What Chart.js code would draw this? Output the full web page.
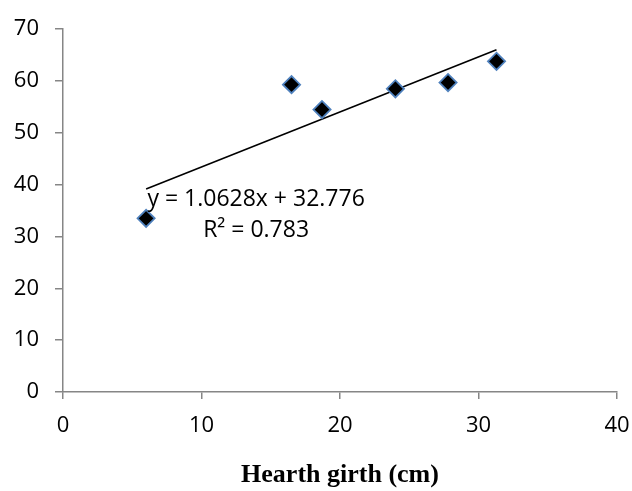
<!DOCTYPE html>
<html>
<head>
<meta charset="utf-8">
<script src="https://cdn.jsdelivr.net/npm/chart.js@4.4.1/dist/chart.umd.min.js"></script>
<style>
html,body{margin:0;padding:0;background:#fff;}
#wrap{width:632px;height:491px;position:relative;}
</style>
</head>
<body>
<div id="wrap"><canvas id="c"></canvas></div>
<script>
const girth = [6, 16.5, 18.7, 24, 27.8, 31.3];
const weight = [33.5, 59.3, 54.5, 58.5, 59.7, 63.8];
const xTicks = [0, 10, 20, 30, 40];
const yTicks = [0, 10, 20, 30, 40, 50, 60, 70];
const slope = 1.0628;
const intercept = 32.776;
const rSquared = 0.783;
const xTitle = 'Hearth girth (cm)';

const xMin = Math.min(...girth), xMax = Math.max(...girth);
const trend = [xMin, xMax].map(x => ({x: x, y: slope * x + intercept}));
const pts = girth.map((x, i) => ({x: x, y: weight[i]}));

const tickFont = {family: "'Open Sans', sans-serif", size: 22};

const eqPlugin = {
  id: 'eq',
  afterDatasetsDraw(chart) {
    const ctx = chart.ctx;
    const xs = chart.scales.x, ys = chart.scales.y;
    ctx.save();
    ctx.fillStyle = '#000';
    ctx.font = "23px 'Open Sans', sans-serif";
    ctx.textBaseline = 'middle';
    ctx.textAlign = 'center';
    const cx = xs.getPixelForValue(xMin) + 110;
    const y0 = ys.getPixelForValue(slope * xMin + intercept);
    ctx.fillText('y = ' + slope + 'x + ' + intercept, cx, y0 + 10);
    ctx.fillText('R\u00B2 = ' + rSquared, cx, y0 + 41);
    ctx.restore();
  }
};

new Chart(document.getElementById('c'), {
  type: 'scatter',
  data: {
    datasets: [
      {
        type: 'line',
        data: trend,
        borderColor: '#000',
        borderWidth: 1.6,
        pointRadius: 0,
        fill: false,
        order: 2
      },
      {
        data: pts,
        pointStyle: 'rectRot',
        pointRadius: 8.6,
        pointHoverRadius: 8.6,
        backgroundColor: '#000',
        borderColor: '#4F81BD',
        borderWidth: 1.8,
        order: 1
      }
    ]
  },
  options: {
    responsive: true,
    maintainAspectRatio: false,
    animation: false,
    events: [],
    layout: {padding: {top: 25, right: 15, left: 0, bottom: 0}},
    plugins: {legend: {display: false}, tooltip: {enabled: false}},
    scales: {
      x: {
        type: 'linear',
        min: 0, max: 40,
        afterBuildTicks: s => { s.ticks = xTicks.map(v => ({value: v})); },
        afterFit: s => { s.height = 99; s.paddingRight = 0; s.paddingLeft = 0; },
        grid: {drawOnChartArea: false, drawTicks: true, tickLength: 7, color: '#868686', lineWidth: 1.5},
        border: {color: '#868686', width: 1.5},
        ticks: {color: '#000', font: tickFont, padding: 14, maxRotation: 0},
        title: {display: true, text: xTitle, color: '#000', font: {family: "'Liberation Serif', 'Times New Roman', serif", size: 26, weight: 'bold'}, padding: {top: 0, bottom: 0}}
      },
      y: {
        type: 'linear',
        min: 0, max: 70,
        afterBuildTicks: s => { s.ticks = yTicks.map(v => ({value: v})); },
        afterFit: s => { s.width = 63; },
        grid: {drawOnChartArea: false, drawTicks: true, tickLength: 8, color: '#868686', lineWidth: 1.5},
        border: {color: '#868686', width: 1.5},
        ticks: {color: '#000', font: tickFont, padding: 16}
      }
    }
  },
  plugins: [eqPlugin]
});
</script>
</body>
</html>
